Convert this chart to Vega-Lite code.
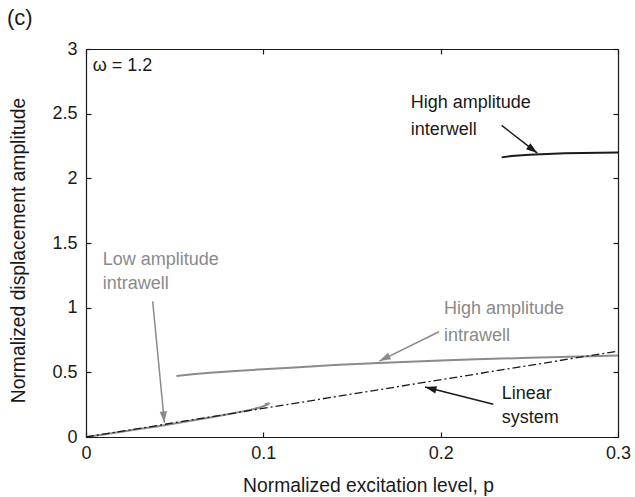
{
  "$schema": "https://vega.github.io/schema/vega-lite/v6.json",
  "width": 532,
  "height": 388,
  "autosize": {"type": "none"},
  "padding": {"left": 86, "top": 49, "right": 17, "bottom": 60},
  "background": "white",
  "title": {"text": "(c)", "anchor": "start", "frame": "group", "dx": -79, "offset": 10, "fontSize": 22, "fontWeight": "normal", "font": "Liberation Sans", "color": "#1a1a1a"},
  "config": {
    "view": {"stroke": null},
    "font": "Liberation Sans",
    "axis": {"grid": false, "domainColor": "#1a1a1a", "tickColor": "#1a1a1a", "labelColor": "#1a1a1a", "titleColor": "#1a1a1a", "labelFontSize": 18, "titleFontSize": 19.3, "titleFontWeight": "normal", "labelFont": "Liberation Sans", "titleFont": "Liberation Sans", "domainWidth": 1.2, "tickWidth": 1.2}
  },
  "datasets": {
    "curves": [
      {"series": "interwell", "i": 0, "p": 0.2344, "a": 2.162},
      {"series": "interwell", "i": 1, "p": 0.24, "a": 2.172},
      {"series": "interwell", "i": 2, "p": 0.25, "a": 2.182},
      {"series": "interwell", "i": 3, "p": 0.26, "a": 2.189},
      {"series": "interwell", "i": 4, "p": 0.27, "a": 2.193},
      {"series": "interwell", "i": 5, "p": 0.28, "a": 2.196},
      {"series": "interwell", "i": 6, "p": 0.3, "a": 2.199},
      {"series": "high intrawell", "i": 0, "p": 0.051, "a": 0.471},
      {"series": "high intrawell", "i": 1, "p": 0.06, "a": 0.485},
      {"series": "high intrawell", "i": 2, "p": 0.07, "a": 0.497},
      {"series": "high intrawell", "i": 3, "p": 0.08, "a": 0.507},
      {"series": "high intrawell", "i": 4, "p": 0.1, "a": 0.524},
      {"series": "high intrawell", "i": 5, "p": 0.12, "a": 0.54},
      {"series": "high intrawell", "i": 6, "p": 0.14, "a": 0.556},
      {"series": "high intrawell", "i": 7, "p": 0.165, "a": 0.573},
      {"series": "high intrawell", "i": 8, "p": 0.2, "a": 0.592},
      {"series": "high intrawell", "i": 9, "p": 0.22, "a": 0.601},
      {"series": "high intrawell", "i": 10, "p": 0.25, "a": 0.612},
      {"series": "high intrawell", "i": 11, "p": 0.2786, "a": 0.622},
      {"series": "high intrawell", "i": 12, "p": 0.3, "a": 0.631},
      {"series": "low intrawell", "i": 0, "p": 0.0, "a": 0.0},
      {"series": "low intrawell", "i": 1, "p": 0.01, "a": 0.02},
      {"series": "low intrawell", "i": 2, "p": 0.02, "a": 0.04},
      {"series": "low intrawell", "i": 3, "p": 0.03, "a": 0.061},
      {"series": "low intrawell", "i": 4, "p": 0.04, "a": 0.082},
      {"series": "low intrawell", "i": 5, "p": 0.05, "a": 0.104},
      {"series": "low intrawell", "i": 6, "p": 0.06, "a": 0.127},
      {"series": "low intrawell", "i": 7, "p": 0.07, "a": 0.151},
      {"series": "low intrawell", "i": 8, "p": 0.08, "a": 0.176},
      {"series": "low intrawell", "i": 9, "p": 0.09, "a": 0.202},
      {"series": "low intrawell", "i": 10, "p": 0.098, "a": 0.228},
      {"series": "low intrawell", "i": 11, "p": 0.102, "a": 0.248},
      {"series": "low intrawell", "i": 12, "p": 0.1035, "a": 0.262},
      {"series": "low intrawell", "i": 13, "p": 0.1008, "a": 0.252},
      {"series": "linear", "i": 0, "p": 0.0, "a": 0.0},
      {"series": "linear", "i": 1, "p": 0.3, "a": 0.664}
    ],
    "arrows": [
      {"series": "interwell", "p": 0.2344, "a": 2.409, "p2": 0.2545, "a2": 2.195},
      {"series": "high intrawell", "p": 0.199, "a": 0.814, "p2": 0.1654, "a2": 0.587},
      {"series": "low intrawell", "p": 0.0376, "a": 1.05, "p2": 0.0442, "a2": 0.111},
      {"series": "linear", "p": 0.2297, "a": 0.2525, "p2": 0.1912, "a2": 0.386}
    ],
    "labels": [
      {"series": "interwell", "p": 0.1831, "a": 2.582, "text": "High amplitude"},
      {"series": "interwell", "p": 0.1831, "a": 2.376, "text": "interwell"},
      {"series": "high intrawell", "p": 0.2019, "a": 0.986, "text": "High amplitude"},
      {"series": "high intrawell", "p": 0.2019, "a": 0.78, "text": "intrawell"},
      {"series": "low intrawell", "p": 0.0094, "a": 1.372, "text": "Low amplitude"},
      {"series": "low intrawell", "p": 0.0094, "a": 1.182, "text": "intrawell"},
      {"series": "linear", "p": 0.2344, "a": 0.33, "text": "Linear"},
      {"series": "linear", "p": 0.2344, "a": 0.15, "text": "system"},
      {"series": "omega", "p": 0.0038, "a": 2.865, "text": "ω = 1.2"}
    ]
  },
  "resolve": {"axis": {"x": "independent", "y": "independent"}},
  "layer": [
    {
      "layer": [
        {
          "data": {"name": "curves"},
          "transform": [{"filter": "datum.series !== 'linear'"}],
          "mark": {"type": "line", "strokeWidth": 2, "clip": true},
          "encoding": {
            "x": {"field": "p", "type": "quantitative", "scale": {"domain": [0, 0.3], "nice": false}, "axis": {"orient": "bottom", "values": [0, 0.1, 0.2, 0.3], "format": "~g", "tickSize": -5, "labelPadding": 12, "title": "Normalized excitation level, p", "titlePadding": 14, "titleX": 282, "titleAlign": "center", "labelFlush": false}},
            "y": {"field": "a", "type": "quantitative", "scale": {"domain": [0, 3], "nice": false}, "axis": {"orient": "left", "values": [0, 0.5, 1, 1.5, 2, 2.5, 3], "format": "~g", "tickSize": -5, "labelPadding": 14, "title": "Normalized displacement amplitude", "titleX": -58, "titleY": 201, "titleAlign": "center", "labelFlush": false}},
            "detail": {"field": "series"},
            "order": {"field": "i", "type": "quantitative"},
            "color": {"field": "series", "type": "nominal", "scale": {"domain": ["interwell", "high intrawell", "low intrawell", "linear", "omega"], "range": ["#1a1a1a", "#8a8a8a", "#8a8a8a", "#1a1a1a", "#1a1a1a"]}, "legend": null}
          }
        },
        {
          "data": {"name": "curves"},
          "transform": [{"filter": "datum.series === 'linear'"}],
          "mark": {"type": "line", "strokeWidth": 1.3, "strokeDash": [8, 3, 2, 3], "color": "#1a1a1a"},
          "encoding": {
            "x": {"field": "p", "type": "quantitative"},
            "y": {"field": "a", "type": "quantitative"},
            "order": {"field": "i", "type": "quantitative"}
          }
        },
        {
          "data": {"name": "arrows"},
          "mark": {"type": "rule", "strokeWidth": 1.5},
          "encoding": {
            "x": {"field": "p", "type": "quantitative"},
            "y": {"field": "a", "type": "quantitative"},
            "x2": {"field": "p2"},
            "y2": {"field": "a2"},
            "color": {"field": "series", "type": "nominal", "legend": null}
          }
        },
        {
          "data": {"name": "arrows"},
          "transform": [{"filter": "datum.series === 'interwell'"}],
          "mark": {"type": "point", "shape": "M0,0L0.32,1L-0.32,1Z", "filled": true, "size": 520, "opacity": 1, "angle": 127, "color": "#1a1a1a"},
          "encoding": {"x": {"field": "p2", "type": "quantitative"}, "y": {"field": "a2", "type": "quantitative"}}
        },
        {
          "data": {"name": "arrows"},
          "transform": [{"filter": "datum.series === 'high intrawell'"}],
          "mark": {"type": "point", "shape": "M0,0L0.32,1L-0.32,1Z", "filled": true, "size": 520, "opacity": 1, "angle": 244, "color": "#8a8a8a"},
          "encoding": {"x": {"field": "p2", "type": "quantitative"}, "y": {"field": "a2", "type": "quantitative"}}
        },
        {
          "data": {"name": "arrows"},
          "transform": [{"filter": "datum.series === 'low intrawell'"}],
          "mark": {"type": "point", "shape": "M0,0L0.32,1L-0.32,1Z", "filled": true, "size": 520, "opacity": 1, "angle": 174.5, "color": "#8a8a8a"},
          "encoding": {"x": {"field": "p2", "type": "quantitative"}, "y": {"field": "a2", "type": "quantitative"}}
        },
        {
          "data": {"name": "arrows"},
          "transform": [{"filter": "datum.series === 'linear'"}],
          "mark": {"type": "point", "shape": "M0,0L0.32,1L-0.32,1Z", "filled": true, "size": 520, "opacity": 1, "angle": 284, "color": "#1a1a1a"},
          "encoding": {"x": {"field": "p2", "type": "quantitative"}, "y": {"field": "a2", "type": "quantitative"}}
        },
        {
          "data": {"name": "labels"},
          "mark": {"type": "text", "align": "left", "baseline": "middle", "fontSize": 18, "font": "Liberation Sans"},
          "encoding": {
            "x": {"field": "p", "type": "quantitative"},
            "y": {"field": "a", "type": "quantitative"},
            "text": {"field": "text"},
            "color": {"field": "series", "type": "nominal", "legend": null}
          }
        }
      ]
    },
    {
      "data": {"name": "curves"},
      "mark": {"type": "point", "opacity": 0},
      "encoding": {
        "x": {"field": "p", "type": "quantitative", "axis": {"orient": "top", "values": [0, 0.1, 0.2, 0.3], "tickSize": -5, "labels": false, "title": null}},
        "y": {"field": "a", "type": "quantitative", "axis": {"orient": "right", "values": [0, 0.5, 1, 1.5, 2, 2.5, 3], "tickSize": -5, "labels": false, "title": null}}
      }
    }
  ]
}
